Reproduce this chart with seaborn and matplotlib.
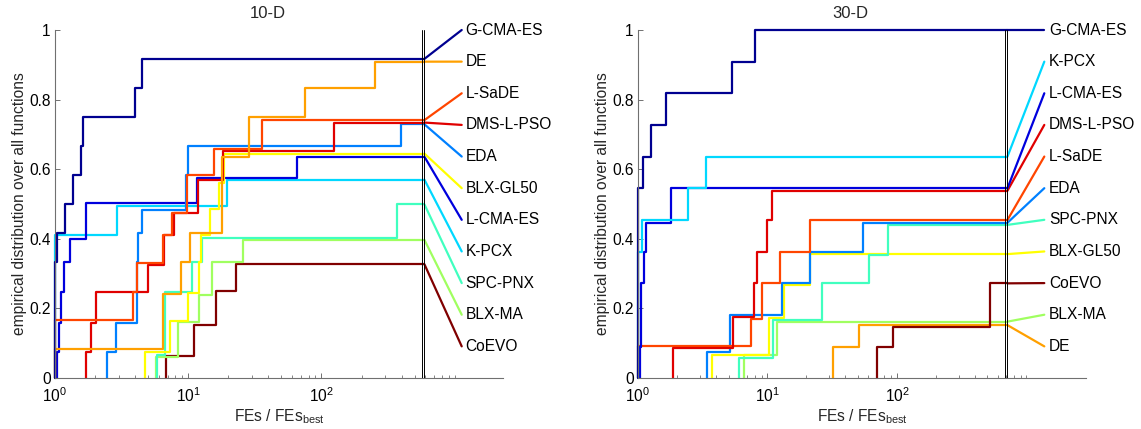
import matplotlib
matplotlib.use("Agg")
import matplotlib.pyplot as plt
import seaborn as sns
import pandas as pd
from matplotlib.ticker import FixedLocator, FixedFormatter, NullFormatter

# ---------------- data ----------------
TITLES = ["10-D", "30-D"]
X_LABEL = "FEs / FEs$_{\\mathrm{best}}$"
Y_LABEL = "empirical distribution over all functions"
X_TICKS = [1, 10, 100]
X_TICK_LABELS = ["$10^{0}$", "$10^{1}$", "$10^{2}$"]
X_MINOR_TICKS = [2, 3, 4, 5, 6, 7, 8, 9, 20, 30, 40, 50, 60, 70, 80, 90,
                 200, 300, 400, 500, 600, 700, 800, 900, 1000]
Y_TICKS = [0, 0.2, 0.4, 0.6, 0.8, 1.0]
Y_TICK_LABELS = ["0", "0.2", "0.4", "0.6", "0.8", "1"]

BUDGET = [573, 689]          # position of the double vertical line
CONNECT_END = [1130, 1374]   # where the label connectors end
LABEL_X = [1211, 1500]       # where the label text starts
X_MAX = [2307, 2884]

ALGORITHMS = ["G-CMA-ES", "L-CMA-ES", "EDA", "K-PCX", "SPC-PNX", "BLX-MA",
              "BLX-GL50", "DE", "L-SaDE", "DMS-L-PSO", "CoEVO"]
COLORS = ["#000090", "#0000DD", "#0080FF", "#00D8FF", "#40FFBF", "#A0FF60",
          "#FFFF00", "#FFA000", "#FF4500", "#E00000", "#800000"]

ORDER_10D = ["G-CMA-ES", "DE", "L-SaDE", "DMS-L-PSO", "EDA", "BLX-GL50",
             "L-CMA-ES", "K-PCX", "SPC-PNX", "BLX-MA", "CoEVO"]
ORDER_30D = ["G-CMA-ES", "K-PCX", "L-CMA-ES", "DMS-L-PSO", "L-SaDE", "EDA",
             "SPC-PNX", "BLX-GL50", "CoEVO", "BLX-MA", "DE"]

# 10-D ECDF steps (FEs/FEs_best, proportion)
G_CMA_ES_10D_X = [1, 1.03, 1.19, 1.37, 1.56, 1.61, 3.98, 4.47]
G_CMA_ES_10D_Y = [0.333, 0.417, 0.5, 0.583, 0.667, 0.75, 0.833, 0.917]
DE_10D_X = [1, 6.5, 8.8, 10.4, 18.0, 28.7, 75, 251]
DE_10D_Y = [0.083, 0.24, 0.333, 0.417, 0.636, 0.75, 0.832, 0.909]
L_SADE_10D_X = [1, 3.87, 4.14, 6.5, 7.5, 9.8, 15.7, 35.9]
L_SADE_10D_Y = [0.167, 0.248, 0.331, 0.411, 0.475, 0.583, 0.658, 0.741]
DMS_L_PSO_10D_X = [1.71, 1.85, 2.03, 5.0, 6.57, 7.8, 11.9, 18.3, 124]
DMS_L_PSO_10D_Y = [0.076, 0.159, 0.248, 0.325, 0.411, 0.475, 0.569, 0.651, 0.734]
EDA_10D_X = [2.44, 2.87, 4.1, 4.2, 4.53, 9.6, 10.0, 398]
EDA_10D_Y = [0.076, 0.159, 0.333, 0.416, 0.483, 0.583, 0.667, 0.729]
BLX_GL50_10D_X = [4.73, 7.3, 10.0, 12.0, 12.4, 14.6, 17.1, 18.6]
BLX_GL50_10D_Y = [0.076, 0.165, 0.243, 0.334, 0.411, 0.485, 0.56, 0.645]
L_CMA_ES_10D_X = [1.03, 1.08, 1.11, 1.17, 1.30, 1.71, 11.6, 65]
L_CMA_ES_10D_Y = [0.075, 0.158, 0.247, 0.334, 0.4, 0.503, 0.574, 0.636]
K_PCX_10D_X = [1, 2.9, 19.4]
K_PCX_10D_Y = [0.411, 0.494, 0.57]
SPC_PNX_10D_X = [5.8, 6.7, 10.6, 12.7, 372]
SPC_PNX_10D_Y = [0.066, 0.248, 0.334, 0.401, 0.499]
BLX_MA_10D_X = [5.7, 8.4, 12.0, 15.2, 25.6]
BLX_MA_10D_Y = [0.06, 0.162, 0.239, 0.332, 0.397]
COEVO_10D_X = [6.77, 11.1, 16.1, 22.8]
COEVO_10D_Y = [0.063, 0.152, 0.251, 0.327]

# 30-D ECDF steps
G_CMA_ES_30D_X = [1, 1.09, 1.27, 1.66, 5.3, 8.0]
G_CMA_ES_30D_Y = [0.545, 0.636, 0.727, 0.818, 0.909, 1.0]
K_PCX_30D_X = [1, 1.07, 2.45, 3.35]
K_PCX_30D_Y = [0.363, 0.454, 0.545, 0.636]
L_CMA_ES_30D_X = [1.03, 1.05, 1.12, 1.16, 1.79]
L_CMA_ES_30D_Y = [0.09, 0.272, 0.363, 0.446, 0.545]
DMS_L_PSO_30D_X = [1.87, 5.45, 7.8, 8.3, 9.87, 10.8]
DMS_L_PSO_30D_Y = [0.085, 0.176, 0.272, 0.363, 0.454, 0.538]
L_SADE_30D_X = [1, 7.4, 9.14, 12.5, 21.3]
L_SADE_30D_Y = [0.091, 0.169, 0.272, 0.363, 0.454]
EDA_30D_X = [3.39, 5.14, 12.9, 21.3, 55]
EDA_30D_Y = [0.075, 0.181, 0.272, 0.363, 0.446]
SPC_PNX_30D_X = [6.07, 11.1, 26.6, 60.3, 86]
SPC_PNX_30D_Y = [0.057, 0.167, 0.272, 0.353, 0.44]
BLX_GL50_30D_X = [3.71, 10.2, 13.3, 21.3]
BLX_GL50_30D_Y = [0.066, 0.171, 0.267, 0.356]
COEVO_30D_X = [69.9, 94, 519]
COEVO_30D_Y = [0.09, 0.146, 0.272]
BLX_MA_30D_X = [6.6, 11.9]
BLX_MA_30D_Y = [0.066, 0.162]
DE_30D_X = [32.3, 51.3]
DE_30D_Y = [0.09, 0.152]

STEPS = [
    {"G-CMA-ES": (G_CMA_ES_10D_X, G_CMA_ES_10D_Y), "DE": (DE_10D_X, DE_10D_Y),
     "L-SaDE": (L_SADE_10D_X, L_SADE_10D_Y), "DMS-L-PSO": (DMS_L_PSO_10D_X, DMS_L_PSO_10D_Y),
     "EDA": (EDA_10D_X, EDA_10D_Y), "BLX-GL50": (BLX_GL50_10D_X, BLX_GL50_10D_Y),
     "L-CMA-ES": (L_CMA_ES_10D_X, L_CMA_ES_10D_Y), "K-PCX": (K_PCX_10D_X, K_PCX_10D_Y),
     "SPC-PNX": (SPC_PNX_10D_X, SPC_PNX_10D_Y), "BLX-MA": (BLX_MA_10D_X, BLX_MA_10D_Y),
     "CoEVO": (COEVO_10D_X, COEVO_10D_Y)},
    {"G-CMA-ES": (G_CMA_ES_30D_X, G_CMA_ES_30D_Y), "K-PCX": (K_PCX_30D_X, K_PCX_30D_Y),
     "L-CMA-ES": (L_CMA_ES_30D_X, L_CMA_ES_30D_Y), "DMS-L-PSO": (DMS_L_PSO_30D_X, DMS_L_PSO_30D_Y),
     "L-SaDE": (L_SADE_30D_X, L_SADE_30D_Y), "EDA": (EDA_30D_X, EDA_30D_Y),
     "SPC-PNX": (SPC_PNX_30D_X, SPC_PNX_30D_Y), "BLX-GL50": (BLX_GL50_30D_X, BLX_GL50_30D_Y),
     "CoEVO": (COEVO_30D_X, COEVO_30D_Y), "BLX-MA": (BLX_MA_30D_X, BLX_MA_30D_Y),
     "DE": (DE_30D_X, DE_30D_Y)},
]
ORDERS = [ORDER_10D, ORDER_30D]

# ---------------- style ----------------
sns.set_theme(style="ticks")
plt.rcParams["font.family"] = ["Liberation Sans", "DejaVu Sans"]
plt.rcParams["mathtext.fontset"] = "custom"
plt.rcParams["mathtext.rm"] = "Liberation Sans"
plt.rcParams["mathtext.it"] = "Liberation Sans:italic"
plt.rcParams["mathtext.bf"] = "Liberation Sans:bold"
plt.rcParams["mathtext.default"] = "regular"

FS = 11.2
SPINE = "#707070"
LW = 1.6
GAP = 1.035
palette = dict(zip(ALGORITHMS, COLORS))

fig = plt.figure(figsize=(11.41, 4.29), dpi=100)
W, H = 1141, 429
lefts = [55, 638]

for p in range(2):
    ax = fig.add_axes([lefts[p] / W, 51 / H, 448 / W, 348 / H])
    ax.set_xscale("log")
    order = ORDERS[p]
    steps = STEPS[p]
    vline = BUDGET[p]
    end_x = vline * GAP

    rows, conn = [], []
    n = len(order)
    for k, name in enumerate(order):
        xs, ys = steps[name]
        px = [xs[0]] + list(xs) + [end_x]
        py = [0.0] + list(ys) + [ys[-1]]
        for a, b in zip(px, py):
            rows.append({"algorithm": name, "FEs": a, "share": b})
        label_y = (n - k) / n
        conn.append({"algorithm": name, "FEs": end_x, "share": ys[-1]})
        conn.append({"algorithm": name, "FEs": CONNECT_END[p], "share": label_y})
        ax.text(LABEL_X[p], label_y, name, ha="left", va="center",
                fontsize=FS, color="black")
    df = pd.DataFrame(rows)
    dfc = pd.DataFrame(conn)
    hue_order = list(reversed(order))

    sns.lineplot(data=df, x="FEs", y="share", hue="algorithm", hue_order=hue_order,
                 palette=palette, estimator=None, sort=False, drawstyle="steps-post",
                 linewidth=LW, legend=False, ax=ax, clip_on=False)
    sns.lineplot(data=dfc, x="FEs", y="share", hue="algorithm", hue_order=hue_order,
                 palette=palette, estimator=None, sort=False,
                 linewidth=LW, legend=False, ax=ax, clip_on=False)

    ax.axvline(vline, color="black", lw=0.7, zorder=5)
    ax.axvline(vline * GAP, color="black", lw=0.7, zorder=5)

    ax.set_xlim(1, X_MAX[p])
    ax.set_ylim(0, 1)
    ax.xaxis.set_major_locator(FixedLocator(X_TICKS))
    ax.xaxis.set_major_formatter(FixedFormatter(X_TICK_LABELS))
    ax.xaxis.set_minor_locator(FixedLocator(X_MINOR_TICKS))
    ax.xaxis.set_minor_formatter(NullFormatter())
    ax.yaxis.set_major_locator(FixedLocator(Y_TICKS))
    ax.yaxis.set_major_formatter(FixedFormatter(Y_TICK_LABELS))

    for s in ["top", "right"]:
        ax.spines[s].set_visible(False)
    for s in ["left", "bottom"]:
        ax.spines[s].set_color(SPINE)
        ax.spines[s].set_linewidth(0.8)
    ax.tick_params(axis="both", which="major", direction="in", length=3.5, width=0.7,
                   color=SPINE, labelsize=FS, labelcolor="black")
    ax.tick_params(axis="both", which="minor", direction="in", length=2.2, width=0.6,
                   color=SPINE)
    ax.tick_params(axis="x", which="major", pad=6)
    ax.tick_params(axis="y", which="major", pad=3)

    ax.set_xlabel(X_LABEL, fontsize=FS)
    ax.xaxis.label.set_va("center")
    ax.xaxis.set_label_coords(0.5, -0.112)
    ax.set_ylabel(Y_LABEL, fontsize=FS)
    ax.yaxis.label.set_va("center")
    ax.yaxis.set_label_coords(-0.080, 0.5)
    ax.set_title(TITLES[p], fontsize=12, x=0.475, pad=8.6)
    ax.grid(False)

fig.savefig("out.png", dpi=100)
